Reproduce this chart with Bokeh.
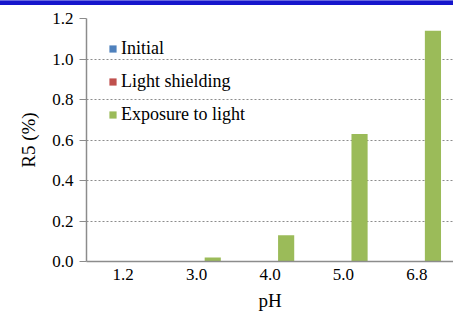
from bokeh.plotting import figure
from bokeh.models import FactorRange, Range1d, Legend, NumeralTickFormatter, FixedTicker, Div
from bokeh.layouts import column
from bokeh.transform import dodge
from bokeh.models import ColumnDataSource
from bokeh.embed import file_html
from bokeh.resources import INLINE

ph_levels = ["1.2", "3.0", "4.0", "5.0", "6.8"]
initial = [0.0, 0.0, 0.0, 0.0, 0.0]
light_shielding = [0.0, 0.0, 0.0, 0.0, 0.0]
exposure = [0.0, 0.02, 0.13, 0.63, 1.14]
y_ticks = [0.0, 0.2, 0.4, 0.6, 0.8, 1.0, 1.2]

FONT = "Liberation Serif"
FW, FH = 367, 243

src = ColumnDataSource(dict(ph=ph_levels, initial=initial, shield=light_shielding, expo=exposure))

p = figure(x_range=FactorRange(*ph_levels, range_padding=0), y_range=Range1d(0, 1.2),
           frame_width=FW, frame_height=FH, output_backend="svg", toolbar_location=None,
           min_border_left=86, min_border_top=13, min_border_bottom=52, min_border_right=0)

w = 0.22
r1 = p.vbar(x=dodge("ph", -w, range=p.x_range), top="initial", width=w, source=src,
            fill_color="#4f81bd", line_color=None)
r2 = p.vbar(x=dodge("ph", 0, range=p.x_range), top="shield", width=w, source=src,
            fill_color="#c0504d", line_color=None)
r3 = p.vbar(x=dodge("ph", w, range=p.x_range), top="expo", width=w, source=src,
            fill_color="#9bbb59", line_color=None)

legend = Legend(items=[("Initial", [r1]), ("Light shielding", [r2]), ("Exposure to light", [r3])],
                location=(22, 136), padding=0, margin=0, spacing=12,
                label_height=21, glyph_height=9, glyph_width=9, label_standoff=4,
                border_line_color=None, background_fill_alpha=0,
                label_text_font=FONT, label_text_font_size="18px", label_text_color="black")
p.add_layout(legend, "center")

p.outline_line_color = None
p.xgrid.grid_line_color = None
p.ygrid.grid_line_color = "#8c8c8c"
p.ygrid.grid_line_dash = "2 2"
p.ygrid.grid_line_width = 1

p.yaxis.ticker = FixedTicker(ticks=y_ticks)
p.yaxis.formatter = NumeralTickFormatter(format="0.0")
p.yaxis.minor_tick_line_color = None
p.yaxis.major_tick_in = 0
p.yaxis.major_tick_out = 7
p.yaxis.major_tick_line_color = "#8c8c8c"
p.yaxis.axis_line_color = "#8c8c8c"
p.yaxis.axis_line_width = 1.5
p.yaxis.major_label_standoff = 6
p.yaxis.axis_label = "R5 (%)"
p.yaxis.axis_label_standoff = 10

p.xaxis.major_tick_line_color = None
p.xaxis.major_tick_out = 0
p.xaxis.axis_line_color = "#8c8c8c"
p.xaxis.axis_line_width = 1.5
p.xaxis.major_label_standoff = 7
p.xaxis.axis_label = "pH"
p.xaxis.axis_label_standoff = 7

for ax in (p.xaxis, p.yaxis):
    ax.major_label_text_font = FONT
    ax.major_label_text_font_size = "17px"
    ax.major_label_text_color = "black"
    ax.axis_label_text_font = FONT
    ax.axis_label_text_font_size = "19px"
    ax.axis_label_text_font_style = "normal"
    ax.axis_label_text_color = "black"

band = Div(text="", width=453, height=5, margin=0,
           styles={"background-color": "#1616cc", "border-top": "1px solid #6a6ae0", "box-sizing": "border-box"})

layout = column(band, p, spacing=0)

open("out.html", "w").write(file_html(layout, INLINE))
